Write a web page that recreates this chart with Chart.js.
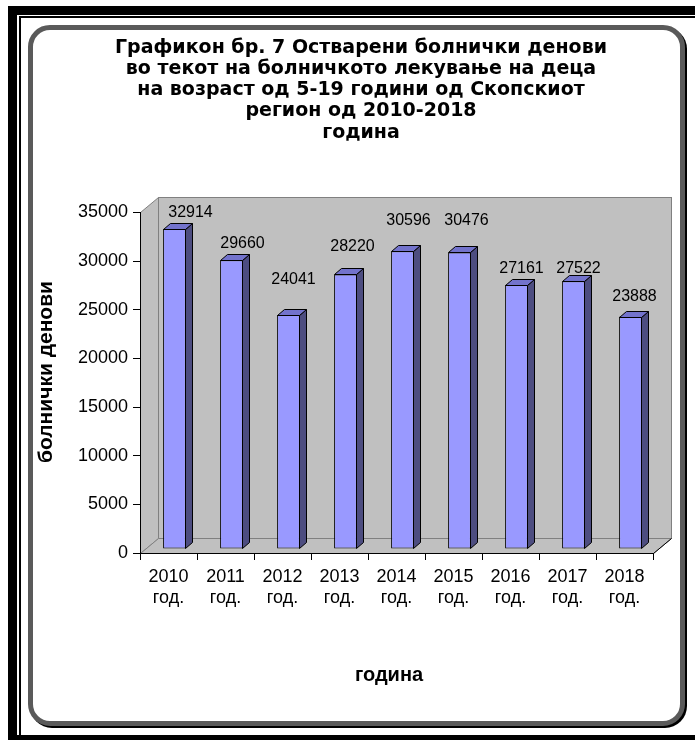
<!DOCTYPE html>
<html>
<head>
<meta charset="utf-8">
<title>Остварени болнички денови 2010-2018</title>
<script src="https://cdn.jsdelivr.net/npm/chart.js@4/dist/chart.umd.min.js"></script>
<style>
  html, body { margin: 0; padding: 0; background: #fff; }
  #strana { position: relative; width: 695px; height: 740px; overflow: hidden; }
  .ramka-debela { position: absolute; left: 8px; top: 6px; width: 800px; height: 800px;
                  border-left: 9px solid #000; border-top: 9px solid #000; }
  .ramka-tenka { position: absolute; left: 19px; top: 16px; width: 800px; height: 800px;
                 border-left: 2px solid #000; border-top: 2px solid #000; }
  .ramka-dolu { position: absolute; left: 8px; top: 735px; width: 700px; height: 10px; background: #000; }
  .kutija { position: absolute; left: 28px; top: 25px; width: 657px; height: 701px; box-sizing: border-box;
            border: 5px solid #5a5a5a; border-radius: 22px; box-shadow: 2px 2px 0 #000; background: #fff; }
  #grafikon { position: absolute; left: 0; top: 0; }
</style>
</head>
<body>
<div id="strana">
  <div class="ramka-debela"></div>
  <div class="ramka-tenka"></div>
  <div class="ramka-dolu"></div>
  <div class="kutija"></div>
  <canvas id="grafikon" width="695" height="740"></canvas>
</div>

<script>
// podatoci
const godini = ['2010', '2011', '2012', '2013', '2014', '2015', '2016', '2017', '2018'];
const denovi = [32914, 29660, 24041, 28220, 30596, 30476, 27161, 27522, 23888];
const yPodelbi = [0, 5000, 10000, 15000, 20000, 25000, 30000, 35000];

const naslov = [
    'Графикон бр. 7 Остварени болнички денови',
    'во текот на болничкото лекување на деца',
    'на возраст од 5-19 години од Скопскиот',
    'регион од 2010-2018',
    'година'
];

// pomestuvanje na etiketite nad stolbovite (px)
const etiketaDx = [16, 11, 5, 7, 6, 7, 5, 5, 4];
const etiketaDy = [-16, -17, -35, -28, -31, -32, -16, -13, -20];

// 3D izgled
const ZID = { x: 18, y: 15 };      // dlabocina na zidot
const POMEST = { x: 6, y: -4 };    // stolbovite se vo sredina na dlabocinata
const STOLB = { x: 7, y: 6 };      // dlabocina na stolbot

const zidovi = {
    id: 'zidovi',
    beforeDraw(chart) {
        const { ctx, chartArea } = chart;
        const l = Math.round(chartArea.left) + 0.5;
        const r = Math.round(chartArea.right) + 0.5;
        const t = Math.round(chartArea.top) + 0.5;
        const b = Math.round(chartArea.bottom) + 0.5;
        ctx.save();
        ctx.lineWidth = 1;
        ctx.fillStyle = '#C0C0C0';
        ctx.strokeStyle = '#808080';
        // zaden zid
        ctx.fillRect(l + ZID.x, t - ZID.y, r - l, b - t);
        ctx.strokeRect(l + ZID.x, t - ZID.y, r - l, b - t);
        // lev zid
        ctx.beginPath();
        ctx.moveTo(l, t);
        ctx.lineTo(l + ZID.x, t - ZID.y);
        ctx.lineTo(l + ZID.x, b - ZID.y);
        ctx.lineTo(l, b);
        ctx.closePath();
        ctx.fill();
        ctx.stroke();
        // pod
        ctx.beginPath();
        ctx.moveTo(l, b);
        ctx.lineTo(l + ZID.x, b - ZID.y);
        ctx.lineTo(r + ZID.x, b - ZID.y);
        ctx.lineTo(r, b);
        ctx.closePath();
        ctx.fill();
        ctx.stroke();
        ctx.strokeStyle = '#000';
        ctx.beginPath();
        ctx.moveTo(r, b);
        ctx.lineTo(r + ZID.x, b - ZID.y);
        ctx.stroke();
        ctx.restore();
    }
};

const stolbovi3d = {
    id: 'stolbovi3d',
    beforeDatasetsDraw(chart) {
        chart.ctx.save();
        chart.ctx.translate(POMEST.x, POMEST.y);
    },
    afterDatasetsDraw(chart) {
        const ctx = chart.ctx;
        ctx.restore();
        const meta = chart.getDatasetMeta(0);
        ctx.save();
        ctx.lineWidth = 1;
        ctx.strokeStyle = '#000';
        meta.data.forEach((bar, i) => {
            const { x, y, base, width } = bar.getProps(['x', 'y', 'base', 'width'], true);
            const L = Math.round(x - width / 2 + POMEST.x) + 0.5;
            const R = Math.round(x + width / 2 + POMEST.x) - 0.5;
            const T = Math.round(y + POMEST.y) + 0.5;
            const B = Math.round(base + POMEST.y) - 0.5;
            // desna strana
            ctx.fillStyle = '#4D4D80';
            ctx.beginPath();
            ctx.moveTo(R, T);
            ctx.lineTo(R + STOLB.x, T - STOLB.y);
            ctx.lineTo(R + STOLB.x, B - STOLB.y);
            ctx.lineTo(R, B);
            ctx.closePath();
            ctx.fill();
            ctx.stroke();
            // gorna strana
            ctx.fillStyle = '#7373CC';
            ctx.beginPath();
            ctx.moveTo(L, T);
            ctx.lineTo(L + STOLB.x, T - STOLB.y);
            ctx.lineTo(R + STOLB.x, T - STOLB.y);
            ctx.lineTo(R, T);
            ctx.closePath();
            ctx.fill();
            ctx.stroke();

            // vrednost nad stolbot
            ctx.fillStyle = '#000';
            ctx.font = '16px "Liberation Sans", Arial, sans-serif';
            ctx.textAlign = 'center';
            ctx.textBaseline = 'middle';
            ctx.fillText(String(denovi[i]), x + POMEST.x + etiketaDx[i], y + POMEST.y + etiketaDy[i]);
        });
        ctx.restore();
    },
    afterDraw(chart) {
        // naslovi na oskite
        const ctx = chart.ctx;
        ctx.save();
        ctx.fillStyle = '#000';
        ctx.textAlign = 'center';
        ctx.textBaseline = 'middle';
        ctx.font = 'bold 20px "Liberation Sans", Arial, sans-serif';
        ctx.fillText('година', 389, 675);
        ctx.font = 'bold 21px "Liberation Sans", Arial, sans-serif';
        ctx.translate(46, 372);
        ctx.rotate(-Math.PI / 2);
        ctx.fillText('болнички денови', 0, 0);
        ctx.restore();
    }
};

window.addEventListener('load', function () {
    const ctx = document.getElementById('grafikon').getContext('2d');
    new Chart(ctx, {
        type: 'bar',
        data: {
            labels: godini.map(g => [g, 'год.']),
            datasets: [{
                data: denovi,
                backgroundColor: '#9999FF',
                borderColor: '#000',
                borderWidth: 1,
                borderSkipped: false,
                categoryPercentage: 1,
                barPercentage: 0.4,
                clip: false
            }]
        },
        plugins: [zidovi, stolbovi3d],
        options: {
            responsive: false,
            animation: false,
            devicePixelRatio: 1,
            layout: { padding: { left: 69, right: 42, top: 0, bottom: 0 } },
            plugins: {
                legend: { display: false },
                tooltip: { enabled: false },
                title: {
                    display: true,
                    text: naslov,
                    color: '#000',
                    font: { family: '"DejaVu Sans", Verdana, sans-serif', size: 19, weight: 'bold', lineHeight: 1.12 },
                    padding: { top: 37, bottom: 69 }
                }
            },
            scales: {
                x: {
                    afterFit(scale) { scale.height = 740 - 553; },
                    grid: { drawOnChartArea: false, drawTicks: true, tickLength: 7, tickColor: '#000' },
                    border: { display: true, color: '#000', width: 1 },
                    ticks: {
                        color: '#000',
                        padding: 6,
                        maxRotation: 0,
                        autoSkip: false,
                        font: { family: '"Liberation Sans", Arial, sans-serif', size: 18, lineHeight: 1.2 }
                    }
                },
                y: {
                    min: yPodelbi[0],
                    max: yPodelbi[yPodelbi.length - 1],
                    afterFit(scale) { scale.width = 140 - 69; },
                    grid: { drawOnChartArea: false, drawTicks: true, tickLength: 7, tickColor: '#000' },
                    border: { display: true, color: '#000', width: 1 },
                    ticks: {
                        stepSize: yPodelbi[1] - yPodelbi[0],
                        color: '#000',
                        padding: 5,
                        callback: v => String(v),
                        font: { family: '"Liberation Sans", Arial, sans-serif', size: 18 }
                    }
                }
            }
        }
    });
});
</script>
</body>
</html>
